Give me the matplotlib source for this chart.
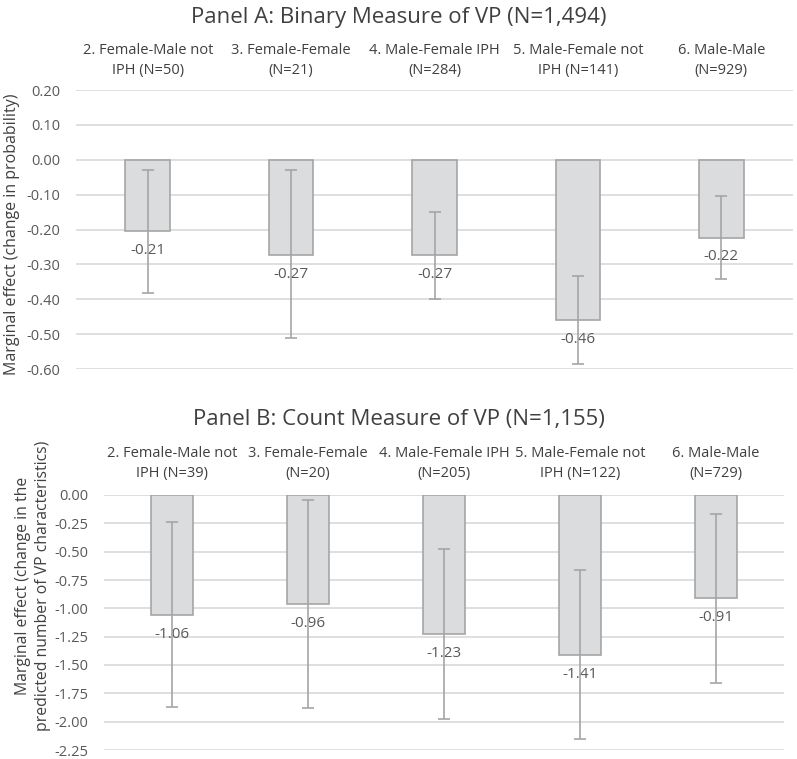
import matplotlib.pyplot as plt
import numpy as np

plt.rcParams['font.family'] = ['Open Sans', 'DejaVu Sans']

# Panel A: binary measure
cats_a = ['2. Female-Male not\nIPH (N=50)', '3. Female-Female\n(N=21)',
          '4. Male-Female IPH\n(N=284)', '5. Male-Female not\nIPH (N=141)',
          '6. Male-Male\n(N=929)']
vals_a = [-0.205, -0.272, -0.273, -0.46, -0.223]
lo_a = [-0.381, -0.512, -0.400, -0.586, -0.342]
hi_a = [-0.029, -0.030, -0.149, -0.333, -0.103]
labels_a = ['-0.21', '-0.27', '-0.27', '-0.46', '-0.22']

# Panel B: count measure
cats_b = ['2. Female-Male not\nIPH (N=39)', '3. Female-Female\n(N=20)',
          '4. Male-Female IPH\n(N=205)', '5. Male-Female not\nIPH (N=122)',
          '6. Male-Male\n(N=729)']
vals_b = [-1.055, -0.96, -1.23, -1.41, -0.91]
lo_b = [-1.87, -1.876, -1.976, -2.156, -1.658]
hi_b = [-0.236, -0.04, -0.477, -0.66, -0.165]
labels_b = ['-1.06', '-0.96', '-1.23', '-1.41', '-0.91']

BAR = '#dbdcde'
EDGE = '#a5a5a5'
GRID = '#d9d9d9'
TXT = '#595959'
DARK = '#404040'

W, H = 797, 759
fig = plt.figure(figsize=(W / 100, H / 100), dpi=100)


def panel(rect, cats, vals, lo, hi, labels, ylim, yticks, fmt, cat_pad):
    ax = fig.add_axes(rect)
    x = np.arange(len(vals))
    vals = np.array(vals)
    yerr = [vals - np.array(lo), np.array(hi) - vals]
    ax.bar(x, vals, width=0.31, color=BAR, edgecolor=EDGE, linewidth=1.2, zorder=2)
    for xi, v, lab in zip(x, vals, labels):
        ax.annotate(lab, xy=(xi, v), xytext=(0, -14), textcoords='offset points',
                    ha='center', va='center', fontsize=11, color=TXT, zorder=3)
    ax.errorbar(x, vals, yerr=yerr, fmt='none', ecolor=EDGE, elinewidth=1.2,
                capsize=4, capthick=1.2, zorder=4)
    for xi, c in zip(x, cats):
        ax.annotate(c, xy=(xi, 1), xycoords=('data', 'axes fraction'),
                    xytext=(0, cat_pad), textcoords='offset points',
                    ha='center', va='bottom', fontsize=10.5, color=DARK,
                    linespacing=1.45)
    ax.set_xlim(-0.5, len(vals) - 0.5)
    ax.set_ylim(*ylim)
    ax.set_yticks(yticks)
    ax.set_yticklabels([fmt.format(t) for t in yticks])
    ax.tick_params(axis='y', length=0, pad=11, labelsize=10.5, labelcolor=TXT)
    ax.set_xticks([])
    ax.grid(axis='y', color=GRID, linewidth=1.2, zorder=0)
    ax.set_axisbelow(True)
    for s in ax.spines.values():
        s.set_visible(False)
    return ax


panel([76 / W, 1 - 369 / H, (793 - 76) / W, (369 - 90) / H],
      cats_a, vals_a, lo_a, hi_a, labels_a, (-0.6, 0.2),
      [0.2, 0.1, 0.0, -0.1, -0.2, -0.3, -0.4, -0.5, -0.6], '{:.2f}', 9)
panel([104 / W, 1 - 750 / H, (784 - 104) / W, (750 - 495) / H],
      cats_b, vals_b, lo_b, hi_b, labels_b, (-2.25, 0.0),
      [0.0, -0.25, -0.5, -0.75, -1.0, -1.25, -1.5, -1.75, -2.0, -2.25], '{:.2f}', 10)

fig.text(0.5, 1 - 17 / H, 'Panel A: Binary Measure of VP (N=1,494)',
         ha='center', va='center', fontsize=16, color=DARK)
fig.text(0.5, 1 - 420 / H, 'Panel B: Count Measure of VP (N=1,155)',
         ha='center', va='center', fontsize=16, color=DARK)
fig.text(12 / W, 1 - 234 / H, 'Marginal effect (change in probability)',
         rotation=90, ha='center', va='center', fontsize=11.5, color=DARK)
fig.text(33 / W, 1 - 586 / H,
         'Marginal effect (change in the\npredicted number of VP characteristics)',
         rotation=90, ha='center', va='center', fontsize=11.3, color=DARK,
         multialignment='center', linespacing=1.3)

fig.savefig('out.png', dpi=100)
